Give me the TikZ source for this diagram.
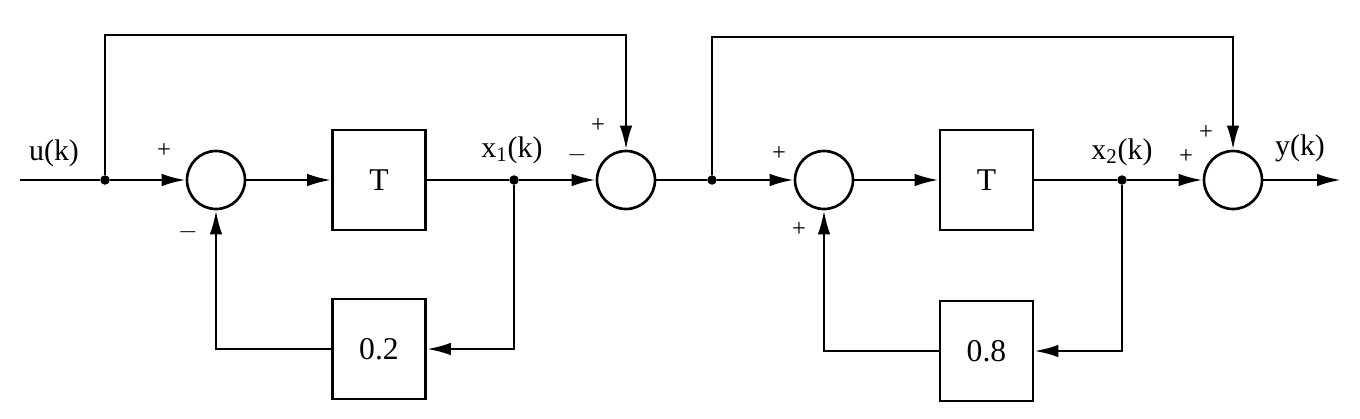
\documentclass[tikz,border=0pt]{standalone}
\usepackage{fontspec}
\setmainfont{Liberation Serif}
\usetikzlibrary{arrows.meta,calc}
\tikzset{
    % Summing point style
    sumnode/.style={
        circle, draw, line width=1.5pt,
        minimum size=1.16cm, inner sep=0pt
    },
    % Block style
    blockbox/.style={
        rectangle, draw, line width=1.5pt,
        minimum width=1.86cm, minimum height=2.0cm,
        font=\fontsize{18}{21}\selectfont
    },
    % Branch point style
    branchdot/.style={
        circle, fill, minimum size=1.9mm, inner sep=0pt
    },
    % Line styles
    wire/.style={line width=1.5pt},
    signal/.style={
        line width=1.5pt, -{Latex[length=4.8mm,width=2.5mm]}
    },
    % Text styles
    signlabel/.style={font=\fontsize{14}{16}\selectfont, inner sep=0pt},
    signame/.style={font=\fontsize{17}{20}\selectfont, inner sep=0pt}
}
\begin{document}
\begin{tikzpicture}
\useasboundingbox (0,0) rectangle (27.2,8.36);

% First stage
\coordinate (in) at (0.4,4.76);
\node[branchdot] (j0) at (2.1,4.76) {};
\node[sumnode] (sum1) at (4.32,4.76) {};
\node[blockbox] (t1) at (7.58,4.76) {T};
\node[branchdot] (j1) at (10.28,4.76) {};
\node[blockbox] (g1) at (7.58,1.38) {0.2};
\node[sumnode] (sum2) at (12.52,4.76) {};
\coordinate (top1) at (12.52,7.66);

% Second stage
\node[branchdot] (j2) at (14.24,4.76) {};
\node[sumnode] (sum3) at (16.48,4.76) {};
\node[blockbox] (t2) at (19.73,4.76) {T};
\node[branchdot] (j3) at (22.44,4.76) {};
\node[blockbox] (g2) at (19.73,1.34) {0.8};
\node[sumnode] (sum4) at (24.66,4.76) {};
\coordinate (top2) at (24.66,7.62);
\coordinate (out) at (26.82,4.76);

% Connections, first stage
\draw[wire] (in) -- (j0);
\draw[signal] (j0) -- (sum1);
\draw[signal] (j0) |- (top1) -- (sum2);
\draw[signal] (sum1) -- (t1);
\draw[wire] (t1) -- (j1);
\draw[signal] (j1) -- (sum2);
\draw[signal] (j1) |- (g1);
\draw[signal] (g1) -| (sum1);

% Connections, second stage
\draw[wire] (sum2) -- (j2);
\draw[signal] (j2) -- (sum3);
\draw[signal] (j2) |- (top2) -- (sum4);
\draw[signal] (sum3) -- (t2);
\draw[wire] (t2) -- (j3);
\draw[signal] (j3) -- (sum4);
\draw[signal] (j3) |- (g2);
\draw[signal] (g2) -| (sum3);
\draw[signal] (sum4) -- (out);

% Signal names
\node[signame] (uk) at (1.08,5.3) {u(k)};
\node[signame] (x1k) at (10.24,5.36) {x\textsubscript{1}(k)};
\node[signame] (x2k) at (22.44,5.32) {x\textsubscript{2}(k)};
\node[signame] (yk) at (26.0,5.4) {y(k)};

% Signs
\node[signlabel] at (3.28,5.34) {+};
\node[signlabel] at (3.76,3.72) {$-$};
\node[signlabel] at (11.96,5.84) {+};
\node[signlabel] at (11.54,5.26) {$-$};
\node[signlabel] at (15.58,5.28) {+};
\node[signlabel] at (15.98,3.76) {+};
\node[signlabel] at (24.12,5.70) {+};
\node[signlabel] at (23.72,5.22) {+};

\end{tikzpicture}
\end{document}
